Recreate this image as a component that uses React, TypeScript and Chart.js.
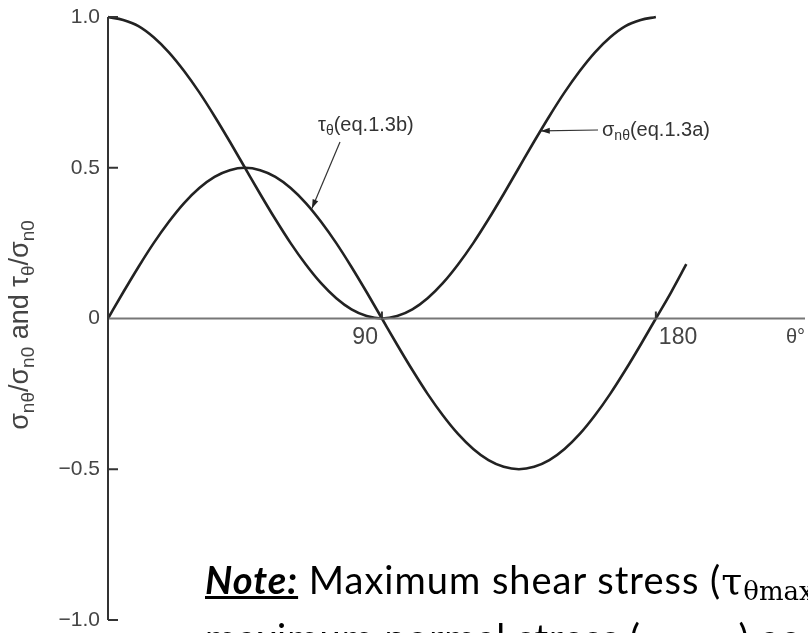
import React, { useEffect, useRef } from "react";
import { Chart, registerables } from "chart.js";

Chart.register(...registerables);

// Angle values (degrees) and curve values
const thetaSigma = [
  0, 5, 10, 15, 20, 25, 30, 35, 40, 45, 50, 55, 60, 65, 70, 75, 80, 85, 90,
  95, 100, 105, 110, 115, 120, 125, 130, 135, 140, 145, 150, 155, 160, 165, 170, 175, 180,
];
const sigmaValues = [
  1.0, 0.99, 0.97, 0.933, 0.883, 0.821, 0.75, 0.671, 0.587, 0.5, 0.413, 0.329, 0.25, 0.179, 0.117, 0.067, 0.03, 0.008, 0.0,
  0.008, 0.03, 0.067, 0.117, 0.179, 0.25, 0.329, 0.413, 0.5, 0.587, 0.671, 0.75, 0.821, 0.883, 0.933, 0.97, 0.99, 1.0,
];

const thetaTau = [
  0, 5, 10, 15, 20, 25, 30, 35, 40, 45, 50, 55, 60, 65, 70, 75, 80, 85, 90,
  95, 100, 105, 110, 115, 120, 125, 130, 135, 140, 145, 150, 155, 160, 165, 170, 175, 180, 185, 190,
];
const tauValues = [
  0.0, 0.087, 0.171, 0.25, 0.321, 0.383, 0.433, 0.47, 0.492, 0.5, 0.492, 0.47, 0.433, 0.383, 0.321, 0.25, 0.171, 0.087, 0.0,
  -0.087, -0.171, -0.25, -0.321, -0.383, -0.433, -0.47, -0.492, -0.5, -0.492, -0.47, -0.433, -0.383, -0.321, -0.25, -0.171, -0.087, 0.0, 0.087, 0.18,
];

const yTicks = [1.0, 0.5, 0, -0.5, -1.0];
const yTickLabels = ["1.0", "0.5", "0", "\u22120.5", "\u22121.0"];
const xTicks = [90, 180];
const xTickLabels = ["90", "180"];

const X_MIN = 0;
const X_MAX = 229;

type Seg = { t: string; sub?: boolean };

function drawRich(ctx: CanvasRenderingContext2D, segs: Seg[], x: number, y: number, size: number, family: string, align: "left" | "center") {
  const subSize = Math.round(size * 0.72);
  let total = 0;
  const widths = segs.map((s) => {
    ctx.font = `${s.sub ? subSize : size}px ${family}`;
    const w = ctx.measureText(s.t).width;
    total += w;
    return w;
  });
  let cx = align === "center" ? x - total / 2 : x;
  ctx.textAlign = "left";
  ctx.textBaseline = "alphabetic";
  segs.forEach((s, i) => {
    ctx.font = `${s.sub ? subSize : size}px ${family}`;
    ctx.fillText(s.t, cx, s.sub ? y + size * 0.22 : y);
    cx += widths[i];
  });
}

function arrow(ctx: CanvasRenderingContext2D, x1: number, y1: number, x2: number, y2: number) {
  ctx.save();
  ctx.strokeStyle = "#333";
  ctx.fillStyle = "#222";
  ctx.lineWidth = 1.2;
  ctx.beginPath();
  ctx.moveTo(x1, y1);
  ctx.lineTo(x2, y2);
  ctx.stroke();
  const a = Math.atan2(y2 - y1, x2 - x1);
  const L = 9;
  const W = 3;
  ctx.beginPath();
  ctx.moveTo(x2, y2);
  ctx.lineTo(x2 - L * Math.cos(a) + W * Math.sin(a), y2 - L * Math.sin(a) - W * Math.cos(a));
  ctx.lineTo(x2 - L * Math.cos(a) - W * Math.sin(a), y2 - L * Math.sin(a) + W * Math.cos(a));
  ctx.closePath();
  ctx.fill();
  ctx.restore();
}

const axesPlugin = {
  id: "customAxes",
  afterDatasetsDraw(chart: any) {
    const ctx: CanvasRenderingContext2D = chart.ctx;
    const xs = chart.scales.x;
    const ys = chart.scales.y;
    const px = (v: number) => xs.getPixelForValue(v);
    const py = (v: number) => ys.getPixelForValue(v);
    const x0 = px(0);
    const y0 = py(0);
    const font = "'Liberation Sans', Arial, sans-serif";
    ctx.save();

    // x axis
    ctx.strokeStyle = "#777";
    ctx.lineWidth = 2;
    ctx.beginPath();
    ctx.moveTo(x0, y0);
    ctx.lineTo(px(X_MAX), y0);
    ctx.stroke();

    // y axis
    ctx.strokeStyle = "#333";
    ctx.lineWidth = 2;
    ctx.beginPath();
    ctx.moveTo(x0, py(1));
    ctx.lineTo(x0, py(-1));
    ctx.stroke();

    // y ticks
    ctx.fillStyle = "#444";
    ctx.font = `21px ${font}`;
    ctx.textAlign = "right";
    ctx.textBaseline = "middle";
    yTicks.forEach((v, i) => {
      if (v !== 0) {
        ctx.beginPath();
        ctx.moveTo(x0, py(v));
        ctx.lineTo(x0 + 10, py(v));
        ctx.stroke();
      }
      ctx.fillText(yTickLabels[i], x0 - 8, py(v));
    });

    // x ticks
    ctx.font = `23px ${font}`;
    ctx.textBaseline = "top";
    xTicks.forEach((v, i) => {
      ctx.beginPath();
      ctx.moveTo(px(v), y0);
      ctx.lineTo(px(v), y0 - 7);
      ctx.stroke();
      if (i === 0) {
        ctx.textAlign = "right";
        ctx.fillText(xTickLabels[i], px(v) - 4, y0 + 8);
      } else {
        ctx.textAlign = "left";
        ctx.fillText(xTickLabels[i], px(v) + 3, y0 + 8);
      }
    });

    // theta° unit label
    ctx.textAlign = "left";
    ctx.font = `20px ${font}`;
    ctx.fillText("\u03b8\u00b0", 786, y0 + 9);

    // y axis title (rotated)
    ctx.save();
    ctx.translate(21, 325);
    ctx.rotate(-Math.PI / 2);
    ctx.fillStyle = "#444";
    drawRich(
      ctx,
      [
        { t: "\u03c3" },
        { t: "n\u03b8", sub: true },
        { t: "/\u03c3" },
        { t: "n0", sub: true },
        { t: " and \u03c4" },
        { t: "\u03b8", sub: true },
        { t: "/\u03c3" },
        { t: "n0", sub: true },
      ],
      0,
      7,
      27,
      font,
      "center"
    );
    ctx.restore();

    // curve labels
    ctx.fillStyle = "#333";
    drawRich(ctx, [{ t: "\u03c4" }, { t: "\u03b8", sub: true }, { t: "(eq.1.3b)" }], 318, 131, 20, font, "left");
    drawRich(ctx, [{ t: "\u03c3" }, { t: "n\u03b8", sub: true }, { t: "(eq.1.3a)" }], 602, 136, 20, font, "left");

    // arrows pointing to curves
    arrow(ctx, 340, 142, px(67), py(0.365));
    arrow(ctx, 598, 130, px(142.2), py(0.622));

    ctx.restore();
  },
};

export default function App() {
  const canvasRef = useRef<HTMLCanvasElement | null>(null);

  useEffect(() => {
    document.body.style.margin = "0";
    const canvas = canvasRef.current;
    if (!canvas) return;
    const chart = new Chart(canvas, {
      type: "line",
      data: {
        datasets: [
          {
            label: "sigma",
            data: thetaSigma.map((t, i) => ({ x: t, y: sigmaValues[i] })),
            borderColor: "#222",
            borderWidth: 2.6,
            pointRadius: 0,
            cubicInterpolationMode: "monotone",
            fill: false,
            clip: false as any,
          },
          {
            label: "tau",
            data: thetaTau.map((t, i) => ({ x: t, y: tauValues[i] })),
            borderColor: "#222",
            borderWidth: 2.6,
            pointRadius: 0,
            cubicInterpolationMode: "monotone",
            fill: false,
            clip: false as any,
          },
        ],
      },
      options: {
        animation: false,
        responsive: false,
        layout: { padding: { left: 108, right: 3, top: 17, bottom: 13 } },
        plugins: { legend: { display: false }, tooltip: { enabled: false } },
        scales: {
          x: { type: "linear", min: X_MIN, max: X_MAX, display: false },
          y: { type: "linear", min: -1, max: 1, display: false },
        },
      },
      plugins: [axesPlugin],
    });
    return () => chart.destroy();
  }, []);

  const noteFont = "Lato, 'Open Sans', sans-serif";
  const serif = "'DejaVu Serif', 'Liberation Serif', serif";
  return (
    <div style={{ position: "relative", width: 808, height: 633, overflow: "hidden", background: "#fff" }}>
      <canvas ref={canvasRef} width={808} height={633} style={{ display: "block", width: 808, height: 633 }} />
      <div
        style={{
          position: "absolute",
          left: 205,
          top: 556,
          whiteSpace: "nowrap",
          fontFamily: noteFont,
          fontSize: 38,
          letterSpacing: "1px",
          lineHeight: "46px",
          color: "#000",
        }}
      >
        <div>
          <b>
            <i>
              <u>Note:</u>
            </i>
          </b>{" "}
          Maximum shear stress (<span style={{ fontFamily: serif }}>τ</span>
          <sub style={{ fontSize: 26, fontFamily: serif, verticalAlign: "-6px", letterSpacing: 0 }}>θmax</sub>
        </div>
        <div>
          maximum normal stress (<span style={{ fontFamily: serif }}>σ</span>
          <sub style={{ fontSize: 26, fontFamily: serif, verticalAlign: "-6px", letterSpacing: 0 }}>θmax</sub>) ac
        </div>
      </div>
    </div>
  );
}
